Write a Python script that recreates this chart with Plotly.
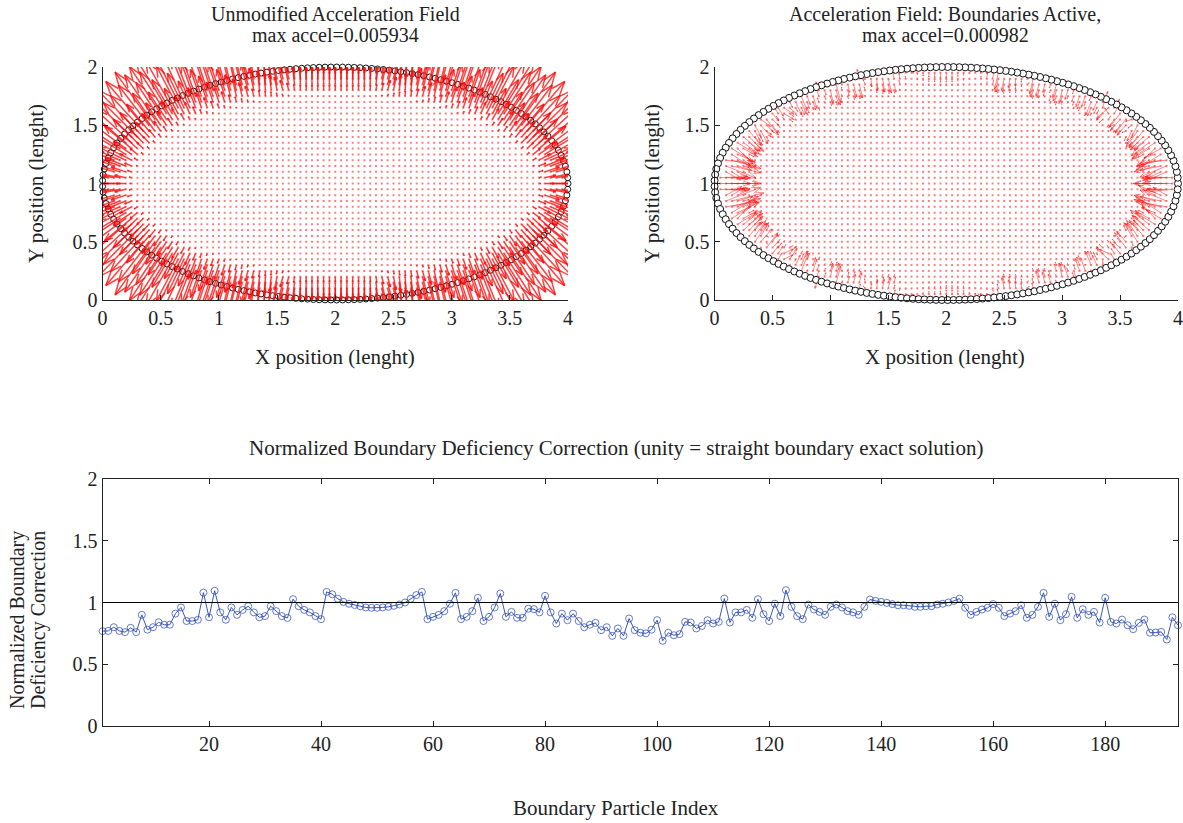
import numpy as np
import plotly.graph_objects as go
import plotly.figure_factory as ff

# ---------------- data / parameters ----------------
ELLIPSE_CENTER = (2.0, 1.0)
ELLIPSE_SEMI_AXES = (2.0, 1.0)
N_BOUNDARY = 193
PARTICLE_SPACING = 0.05
FLUID_CUTOFF = 0.955          # particles kept where (x-2)^2/4 + (y-1)^2 < cutoff
KERNEL_H = 0.14
MAX_ACCEL_RAW = 0.005934
MAX_ACCEL_ACTIVE = 0.000982
ARROW_LEN_RAW = 0.50      # longest arrow drawn (data units), left panel
ARROW_LEN_ACTIVE = 0.32   # longest arrow drawn, right panel

x_ticks_top = [0, 0.5, 1, 1.5, 2, 2.5, 3, 3.5, 4]
y_ticks_top = [0, 0.5, 1, 1.5, 2]
x_ticks_bottom = [20, 40, 60, 80, 100, 120, 140, 160, 180]
y_ticks_bottom = [0, 0.5, 1, 1.5, 2]
UNITY = 1.0

correction = [
    0.768, 0.77, 0.80, 0.77, 0.76, 0.795, 0.76, 0.90, 0.78, 0.80,
    0.84, 0.82, 0.82, 0.91, 0.96, 0.85, 0.85, 0.86, 1.08, 0.88,
    1.095, 0.92, 0.86, 0.96, 0.90, 0.94, 0.97, 0.92, 0.88, 0.89,
    0.97, 0.93, 0.89, 0.875, 1.027, 0.97, 0.94, 0.92, 0.89, 0.865,
    1.086, 1.067, 1.03, 1.005, 0.99, 0.98, 0.97, 0.96,
    0.957, 0.957, 0.96, 0.965, 0.973, 0.984, 1.0, 1.03, 1.06, 1.086,
    0.865, 0.884, 0.90, 0.93, 0.99, 1.078, 0.865, 0.884, 0.93, 1.038,
    0.85, 0.884, 0.96, 1.073, 0.884, 0.924, 0.876, 0.876, 0.95, 0.946,
    0.92, 1.054, 0.92, 0.83, 0.91, 0.857, 0.91, 0.85, 0.80, 0.82,
    0.835, 0.776, 0.80, 0.73, 0.79, 0.73, 0.87, 0.776,
    0.755, 0.75, 0.78, 0.857, 0.69, 0.755, 0.735, 0.744, 0.843, 0.838,
    0.79, 0.81, 0.857, 0.83, 0.843, 1.032, 0.838, 0.92, 0.92, 0.94,
    0.876, 1.027, 0.905, 0.85, 0.99, 0.89, 1.10, 0.965, 0.89, 0.865,
    0.984, 0.943, 0.924, 0.90, 0.965, 0.984, 0.96, 0.93, 0.92, 0.90,
    0.965, 1.024, 1.013, 1.005, 0.997, 0.987, 0.978, 0.978,
    0.973, 0.965, 0.965, 0.97, 0.97, 0.984, 0.99, 1.0, 1.013, 1.032,
    0.957, 0.90, 0.924, 0.943, 0.957, 0.987, 0.957, 0.89, 0.91, 0.93,
    0.978, 0.876, 0.90, 0.965, 1.078, 0.884, 0.99, 0.857, 0.905, 1.046,
    0.876, 0.946, 0.90, 0.924, 0.838, 1.038, 0.843, 0.83, 0.862, 0.816,
    0.784, 0.835, 0.862, 0.755, 0.757, 0.762, 0.70, 0.88, 0.816,
]
particle_index = list(range(1, len(correction) + 1))

# ---------------- geometry: boundary particles (equal arc length) ----------
cx, cy = ELLIPSE_CENTER
ea, eb = ELLIPSE_SEMI_AXES
tt = np.linspace(0, 2 * np.pi, 40001)
ex = cx + ea * np.cos(tt)
ey = cy + eb * np.sin(tt)
cum = np.concatenate([[0], np.cumsum(np.hypot(np.diff(ex), np.diff(ey)))])
tb = np.interp(np.arange(N_BOUNDARY) * cum[-1] / N_BOUNDARY, cum, tt)
bx = cx + ea * np.cos(tb)
by = cy + eb * np.sin(tb)
wb = np.asarray(correction)

# ---------------- fluid particles on a regular grid ----------------
gx, gy = np.meshgrid(np.arange(0, 4 + 1e-9, PARTICLE_SPACING),
                     np.arange(0, 2 + 1e-9, PARTICLE_SPACING))
gx = gx.ravel(); gy = gy.ravel()
inside = ((gx - cx) / ea) ** 2 + ((gy - cy) / eb) ** 2 < FLUID_CUTOFF
px = gx[inside]; py = gy[inside]


def grad_w(dx, dy, h):
    r = np.hypot(dx, dy)
    q = r / h
    sigma = 10.0 / (7.0 * np.pi * h * h)
    dw = np.where(q < 1, -3 * q + 2.25 * q * q,
                  np.where(q < 2, -0.75 * (2 - q) ** 2, 0.0)) * sigma / h
    rs = np.where(r > 0, r, 1.0)
    return np.where(r > 0, dw * dx / rs, 0.0), np.where(r > 0, dw * dy / rs, 0.0)


# unmodified field: -sum of kernel gradients over the fluid neighbours
ax_int = np.zeros(len(px)); ay_int = np.zeros(len(px))
for s in range(0, len(px), 400):
    gxx, gyy = grad_w(px[s:s + 400, None] - px[None, :],
                      py[s:s + 400, None] - py[None, :], KERNEL_H)
    ax_int[s:s + 400] = -gxx.sum(axis=1)
    ay_int[s:s + 400] = -gyy.sum(axis=1)

# boundary active: straight-wall (tangent half-plane) boundary force,
# weighted by the correction factor of the nearest boundary particle
sa, sb = ea * np.sqrt(FLUID_CUTOFF), eb * np.sqrt(FLUID_CUTOFF)
tt2 = np.linspace(0, 2 * np.pi, 4000, endpoint=False)
cxs = cx + sa * np.cos(tt2); cys = cy + sb * np.sin(tt2)
nxs = np.cos(tt2) / sa; nys = np.sin(tt2) / sb
nn = np.hypot(nxs, nys); nxs /= nn; nys /= nn
k = int(np.ceil(2 * KERNEL_H / PARTICLE_SPACING))
oi, oj = np.meshgrid(np.arange(-k, k + 1), np.arange(-k, k + 1))
ox = oi.ravel() * PARTICLE_SPACING; oy = oj.ravel() * PARTICLE_SPACING
keep = (np.hypot(ox, oy) < 2 * KERNEL_H) & (np.hypot(ox, oy) > 0)
ox = ox[keep]; oy = oy[keep]
gox, goy = grad_w(-ox, -oy, KERNEL_H)
ax_hp = np.zeros(len(px)); ay_hp = np.zeros(len(px)); w_near = np.ones(len(px))
for s in range(0, len(px), 300):
    sl = slice(s, s + 300)
    d2 = (px[sl, None] - cxs[None, :]) ** 2 + (py[sl, None] - cys[None, :]) ** 2
    idx = d2.argmin(axis=1)
    dist = np.sqrt(d2[np.arange(len(idx)), idx])
    nx = nxs[idx]; ny = nys[idx]
    proj = ox[None, :] * nx[:, None] + oy[None, :] * ny[:, None]
    miss = proj > dist[:, None] + 1e-9
    ax_hp[sl] = (miss * gox[None, :]).sum(axis=1)
    ay_hp[sl] = (miss * goy[None, :]).sum(axis=1)
    db = (px[sl, None] - bx[None, :]) ** 2 + (py[sl, None] - by[None, :]) ** 2
    w_near[sl] = wb[db.argmin(axis=1)]
ax_act = w_near * ax_hp - ax_int
ay_act = w_near * ay_hp - ay_int

m_raw = np.hypot(ax_int, ay_int).max()
u_raw = ax_int / m_raw * MAX_ACCEL_RAW
v_raw = ay_int / m_raw * MAX_ACCEL_RAW
m_act = np.hypot(ax_act, ay_act).max()
u_act = ax_act / m_act * MAX_ACCEL_ACTIVE
v_act = ay_act / m_act * MAX_ACCEL_ACTIVE

q_raw = ff.create_quiver(px, py, u_raw, v_raw, scale=ARROW_LEN_RAW / MAX_ACCEL_RAW,
                         arrow_scale=0.25, angle=np.pi / 9,
                         line=dict(color="rgba(255,10,10,0.78)", width=1.5)).data[0]
q_act = ff.create_quiver(px, py, u_act, v_act, scale=ARROW_LEN_ACTIVE / MAX_ACCEL_ACTIVE,
                         arrow_scale=0.25, angle=np.pi / 9,
                         line=dict(color="rgba(255,15,15,0.5)", width=1)).data[0]

FONT = "Liberation Serif"
fig = go.Figure()

# left panel
fig.add_trace(go.Scatter(x=bx, y=by, mode="markers", cliponaxis=False,
                         marker=dict(symbol="circle-open", size=6, color="#111",
                                     line=dict(width=1)),
                         xaxis="x", yaxis="y", showlegend=False, hoverinfo="skip"))
fig.add_trace(go.Scatter(x=px, y=py, mode="markers", xaxis="x", yaxis="y",
                         marker=dict(symbol="square", size=2, color="rgba(255,0,0,0.5)"),
                         showlegend=False, hoverinfo="skip"))
q_raw.update(xaxis="x", yaxis="y", showlegend=False, hoverinfo="skip")
fig.add_trace(q_raw)

# right panel
fig.add_trace(go.Scatter(x=px, y=py, mode="markers", xaxis="x2", yaxis="y2",
                         marker=dict(symbol="square", size=2, color="rgba(255,0,0,0.5)"),
                         showlegend=False, hoverinfo="skip"))
q_act.update(xaxis="x2", yaxis="y2", showlegend=False, hoverinfo="skip")
fig.add_trace(q_act)
fig.add_trace(go.Scatter(x=bx, y=by, mode="markers", cliponaxis=False,
                         marker=dict(symbol="circle", size=7, color="white",
                                     line=dict(width=1, color="#111")),
                         xaxis="x2", yaxis="y2", showlegend=False, hoverinfo="skip"))

# bottom panel
fig.add_trace(go.Scatter(x=particle_index, y=correction, mode="lines+markers",
                         xaxis="x3", yaxis="y3", showlegend=False, cliponaxis=False,
                         line=dict(color="rgba(40,70,170,0.9)", width=1),
                         marker=dict(symbol="circle-open", size=7,
                                     color="rgba(50,80,185,0.75)", line=dict(width=1))))
fig.add_shape(type="line", xref="x3 domain", yref="y3", x0=0, x1=1,
              y0=UNITY, y1=UNITY, line=dict(color="black", width=1.2))

W, H = 1183, 823
def px2x(p): return p / W
def px2y(p): return 1 - p / H

tickfont = dict(family=FONT, size=20, color="#222")
common = dict(showgrid=False, zeroline=False, showline=True, linecolor="#222",
              linewidth=1, ticks="inside", ticklen=5, tickcolor="#222",
              tickfont=tickfont, automargin=False)

fig.update_layout(
    width=W, height=H, margin=dict(l=0, r=0, t=0, b=0, pad=0, autoexpand=False),
    paper_bgcolor="white", plot_bgcolor="white",
    font=dict(family=FONT, size=20, color="#222"),
    xaxis=dict(domain=[px2x(102.5), px2x(568)], range=[0, 4], tickvals=x_ticks_top,
               anchor="y", **common),
    yaxis=dict(domain=[px2y(300), px2y(67)], range=[0, 2], tickvals=y_ticks_top,
               anchor="x", **common),
    xaxis2=dict(domain=[px2x(714.5), px2x(1178)], range=[0, 4], tickvals=x_ticks_top,
                anchor="y2", **common),
    yaxis2=dict(domain=[px2y(300), px2y(67)], range=[0, 2], tickvals=y_ticks_top,
                anchor="x2", **common),
    xaxis3=dict(domain=[px2x(102.6), px2x(1178)], range=[1, 193], tickvals=x_ticks_bottom,
                anchor="y3", mirror="ticks", **common),
    yaxis3=dict(domain=[px2y(726), px2y(479)], range=[0, 2], tickvals=y_ticks_bottom,
                anchor="x3", mirror="ticks", **common),
)

def note(text, x, y, angle=0, size=21):
    fig.add_annotation(text=text, x=px2x(x), y=px2y(y), xref="paper", yref="paper",
                       showarrow=False, textangle=angle, xanchor="center",
                       yanchor="middle", borderpad=0,
                       font=dict(family=FONT, size=size, color="#222"))

note("Unmodified Acceleration Field", 335, 14, size=20)
note("max accel=0.005934", 335, 35, size=20)
note("Acceleration Field: Boundaries Active,", 945, 14, size=20)
note("max accel=0.000982", 945, 35, size=20)
note("X position (lenght)", 335, 357)
note("X position (lenght)", 945, 357)
note("Y position (lenght)", 36, 184, -90)
note("Y position (lenght)", 652, 184, -90)
note("Normalized Boundary Deficiency Correction (unity = straight boundary exact solution)", 616, 448)
note("Normalized Boundary", 17, 620, -90, size=20)
note("Deficiency Correction", 38, 620, -90, size=20)
note("Boundary Particle Index", 616, 808)

fig.write_html("out.html",
               post_script="document.body.style.margin='0';"
                           "document.body.style.overflow='hidden';")
